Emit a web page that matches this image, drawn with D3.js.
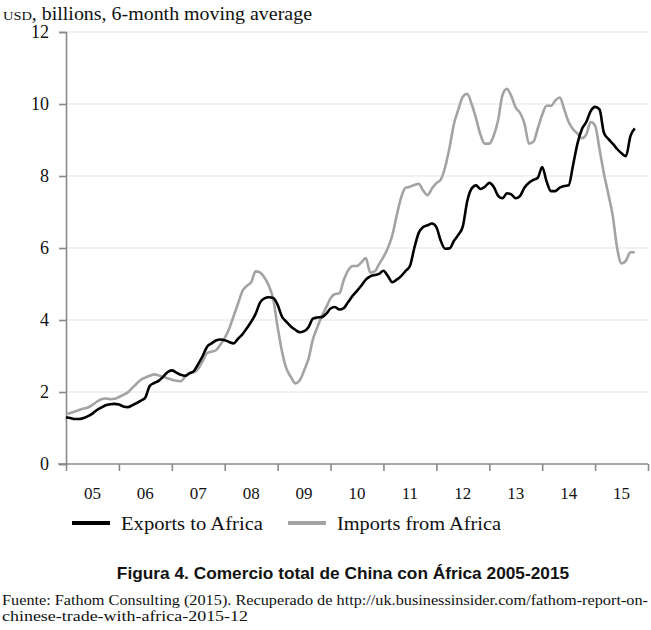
<!DOCTYPE html>
<html>
  <head>
    <meta charset="utf-8">
    <script src="https://d3js.org/d3.v7.min.js"></script>
    <style>
      body { margin: 0; background: #fff; }
      svg { display: block; }
    </style>
  </head>
  <body>
    <script>

// monthly values, Jan 2005 onwards (6-month moving average, USD bn)
const exportsToAfrica = [
  1.30, 1.28, 1.25, 1.25, 1.28, 1.33, 1.40, 1.50, 1.57, 1.63, 1.66, 1.67,
  1.65, 1.60, 1.58, 1.63, 1.69, 1.76, 1.85, 2.17, 2.25, 2.31, 2.42, 2.55,
  2.60, 2.54, 2.48, 2.45, 2.52, 2.58, 2.78, 3.00, 3.26, 3.35, 3.43, 3.46,
  3.44, 3.39, 3.35, 3.48, 3.60, 3.77, 3.95, 4.17, 4.48, 4.60, 4.63, 4.61,
  4.42, 4.09, 3.95, 3.82, 3.73, 3.66, 3.69, 3.80, 4.04, 4.07, 4.08, 4.17,
  4.32, 4.36, 4.29, 4.33, 4.50, 4.67, 4.81, 4.96, 5.12, 5.21, 5.25, 5.28,
  5.37, 5.22, 5.05, 5.12, 5.22, 5.36, 5.50, 6.00, 6.42, 6.58, 6.63, 6.68,
  6.58, 6.20, 5.98, 5.99, 6.20, 6.37, 6.60, 7.30, 7.65, 7.74, 7.64, 7.70,
  7.81, 7.70, 7.45, 7.38, 7.52, 7.49, 7.38, 7.45, 7.68, 7.81, 7.89, 7.95,
  8.25, 7.85, 7.58, 7.58, 7.68, 7.72, 7.74, 8.30, 8.90, 9.30, 9.50, 9.80,
  9.92, 9.85, 9.20, 9.03, 8.90, 8.75, 8.63, 8.55, 9.10, 9.32
];

const importsFromAfrica = [
  1.39, 1.42, 1.46, 1.50, 1.54, 1.57, 1.64, 1.73, 1.80, 1.82, 1.80, 1.81,
  1.86, 1.92, 1.99, 2.11, 2.23, 2.34, 2.40, 2.45, 2.49, 2.46, 2.42, 2.38,
  2.34, 2.31, 2.30, 2.42, 2.53, 2.55, 2.65, 2.86, 3.08, 3.12, 3.16, 3.31,
  3.50, 3.76, 4.10, 4.45, 4.80, 4.95, 5.05, 5.35, 5.32, 5.18, 4.95, 4.58,
  3.80, 3.12, 2.65, 2.42, 2.24, 2.32, 2.60, 2.92, 3.46, 3.80, 4.10, 4.35,
  4.60, 4.72, 4.74, 5.11, 5.38, 5.50, 5.50, 5.60, 5.72, 5.32, 5.35, 5.55,
  5.75, 6.00, 6.35, 6.90, 7.40, 7.67, 7.70, 7.75, 7.78, 7.60, 7.47, 7.65,
  7.80, 7.90, 8.25, 8.80, 9.45, 9.85, 10.20, 10.28, 10.00, 9.60, 9.15, 8.90,
  8.90, 9.12, 9.55, 10.25, 10.42, 10.22, 9.90, 9.75, 9.45, 8.90, 8.95, 9.32,
  9.70, 9.95, 9.95, 10.10, 10.18, 9.85, 9.50, 9.30, 9.18, 9.05, 9.15, 9.50,
  9.40, 8.75, 8.07, 7.50, 6.90, 6.00, 5.57, 5.65, 5.88, 5.88
];

const yearLabels = ["05", "06", "07", "08", "09", "10", "11", "12", "13", "14", "15"];
const yTicks = [0, 2, 4, 6, 8, 10, 12];
const seriesNames = ["Exports to Africa", "Imports from Africa"];
const seriesColors = ["#000000", "#a3a3a3"];

const width = 651, height = 630;
const serif = "'Liberation Serif', 'Times New Roman', serif";

const svg = d3.select("body").append("svg")
    .attr("width", width)
    .attr("height", height);

// months since Jan 2005
const x = d3.scaleLinear().domain([0, 132]).range([66, 648]);
const y = d3.scaleLinear().domain([0, 12]).range([464, 32]);

// gridlines
svg.append("g")
  .selectAll("line")
  .data(yTicks.filter(d => d > 0))
  .join("line")
    .attr("x1", 66).attr("x2", 648)
    .attr("y1", d => y(d)).attr("y2", d => y(d))
    .attr("stroke", "#ececec")
    .attr("stroke-width", 1.5);

// y axis
const yAxis = svg.append("g")
    .attr("transform", `translate(${x(0)},0)`)
    .call(d3.axisLeft(y).tickValues(yTicks).tickSize(7).tickPadding(10).tickFormat(d3.format("d")));
yAxis.select(".domain").attr("stroke", "#8a8a8a").attr("stroke-width", 1.6);
yAxis.selectAll(".tick line").attr("stroke", "#8a8a8a").attr("stroke-width", 1.6);
yAxis.selectAll(".tick text")
    .attr("font-family", serif)
    .attr("font-size", 18)
    .attr("fill", "#111");

// x axis: ticks at year boundaries, labels mid-year
const xAxis = svg.append("g")
    .attr("transform", `translate(0,${y(0)})`)
    .call(d3.axisBottom(x).tickValues(d3.range(0, 133, 12)).tickSize(7).tickFormat(""));
xAxis.select(".domain").attr("stroke", "#8a8a8a").attr("stroke-width", 1.6)
    .attr("d", `M${x(0) - 8},0H${x(132)}`);
xAxis.selectAll(".tick line").attr("stroke", "#8a8a8a").attr("stroke-width", 1.6);

svg.append("g")
  .selectAll("text")
  .data(yearLabels)
  .join("text")
    .attr("x", (d, i) => x(i * 12 + 6))
    .attr("y", 499)
    .attr("text-anchor", "middle")
    .attr("font-family", serif)
    .attr("font-size", 17)
    .attr("fill", "#111")
    .text(d => d);

// lines
const line = d3.line()
    .x((d, i) => x(i))
    .y(d => y(d))
    .curve(d3.curveMonotoneX);

const series = [importsFromAfrica, exportsToAfrica];
const colors = [seriesColors[1], seriesColors[0]];
svg.append("g")
  .selectAll("path")
  .data(series)
  .join("path")
    .attr("fill", "none")
    .attr("stroke", (d, i) => colors[i])
    .attr("stroke-width", 2.6)
    .attr("stroke-linejoin", "round")
    .attr("d", line);

// unit label
const unit = svg.append("text")
    .attr("x", 3)
    .attr("y", 20)
    .attr("font-family", serif)
    .attr("font-size", 18)
    .attr("textLength", 309)
    .attr("lengthAdjust", "spacingAndGlyphs")
    .attr("fill", "#111");
unit.append("tspan").attr("font-variant", "small-caps").text("usd");
unit.append("tspan").text(", billions, 6-month moving average");

// legend
const legendX = [72, 288];
const legendLen = [142, 164];
const legend = svg.append("g")
  .selectAll("g")
  .data(seriesNames)
  .join("g")
    .attr("transform", (d, i) => `translate(${legendX[i]},523)`);
legend.append("line")
    .attr("x1", 0).attr("x2", 38)
    .attr("stroke", (d, i) => seriesColors[i])
    .attr("stroke-width", 4);
legend.append("text")
    .attr("x", 49)
    .attr("y", 7)
    .attr("font-family", serif)
    .attr("font-size", 18)
    .attr("textLength", (d, i) => legendLen[i])
    .attr("lengthAdjust", "spacingAndGlyphs")
    .attr("fill", "#111")
    .text(d => d);

// caption
svg.append("text")
    .attr("x", 343)
    .attr("y", 579)
    .attr("text-anchor", "middle")
    .attr("font-family", "'Liberation Sans', Arial, sans-serif")
    .attr("font-weight", "bold")
    .attr("font-size", 17.3)
    .attr("fill", "#111")
    .text("Figura 4. Comercio total de China con África 2005-2015");

const source = svg.append("text")
    .attr("font-family", serif)
    .attr("font-size", 14.5)
    .attr("lengthAdjust", "spacingAndGlyphs")
    .attr("fill", "#111");
source.append("tspan").attr("x", 2).attr("y", 605)
    .attr("textLength", 646)
    .attr("lengthAdjust", "spacingAndGlyphs")
    .text("Fuente: Fathom Consulting (2015). Recuperado de http://uk.businessinsider.com/fathom-report-on-");
source.append("tspan").attr("x", 2).attr("y", 621)
    .attr("textLength", 246)
    .attr("lengthAdjust", "spacingAndGlyphs")
    .text("chinese-trade-with-africa-2015-12");

    </script>
  </body>
</html>
